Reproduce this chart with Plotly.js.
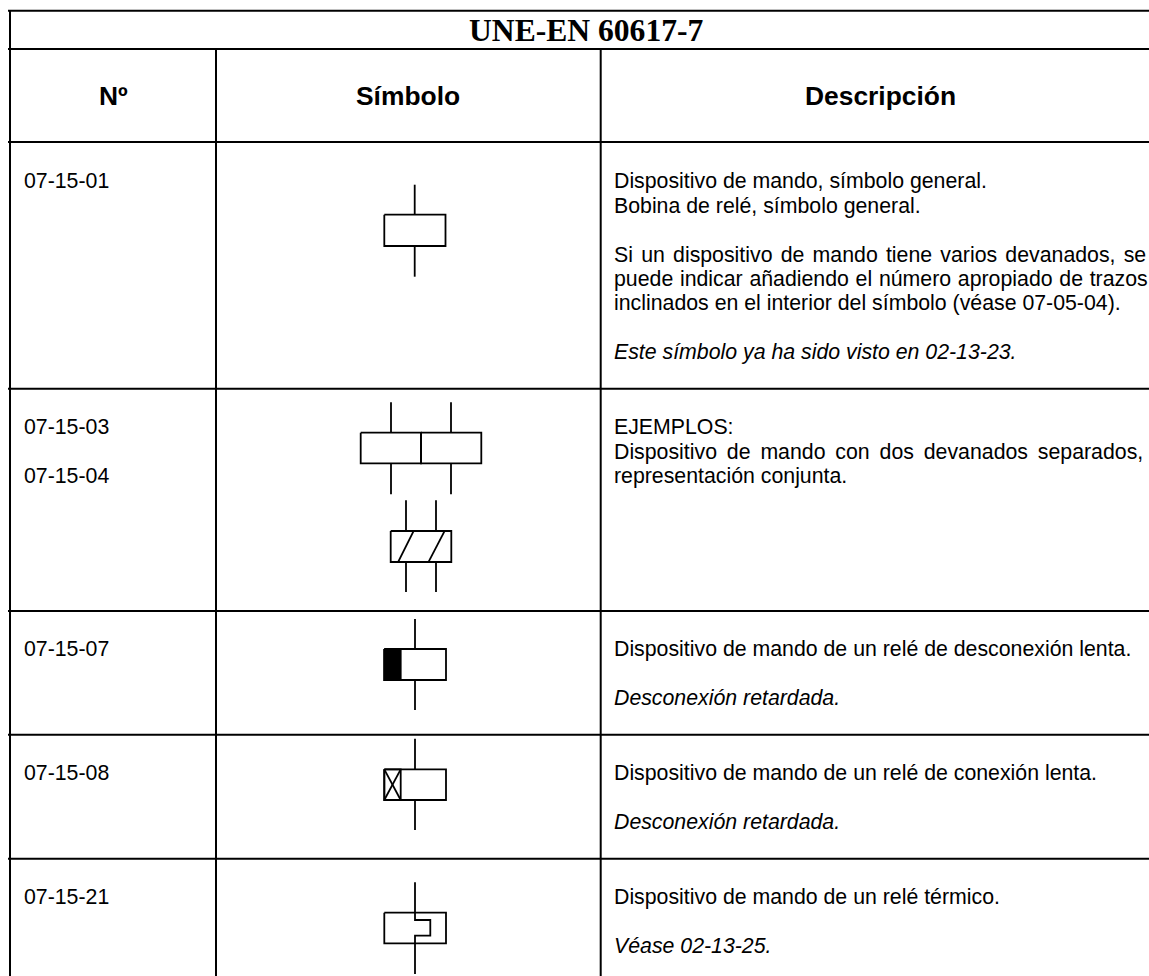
<!DOCTYPE html>
<html><head><meta charset="utf-8">
<script src="https://cdn.plot.ly/plotly-3.0.1.min.js"></script>
<style>html,body{margin:0;padding:0;background:#fff}#chart{width:1149px;height:976px}</style>
</head><body><div id="chart"></div>
<script>
const tableTitle = "UNE-EN 60617-7";
const headers = ["Nº", "Símbolo", "Descripción"];
const codes = ["07-15-01", "07-15-03", "07-15-04", "07-15-07", "07-15-08", "07-15-21"];
const descLines = [
  "Dispositivo de mando, símbolo general.",
  "Bobina de relé, símbolo general.",
  "Si un dispositivo de mando tiene varios devanados, se",
  "puede indicar añadiendo el número apropiado de trazos",
  "inclinados en el interior del símbolo (véase 07-05-04).",
  "<i>Este símbolo ya ha sido visto en 02-13-23.</i>",
  "EJEMPLOS:",
  "Dispositivo de mando con dos devanados separados,",
  "representación conjunta.",
  "Dispositivo de mando de un relé de desconexión lenta.",
  "<i>Desconexión retardada.</i>",
  "Dispositivo de mando de un relé de conexión lenta.",
  "<i>Desconexión retardada.</i>",
  "Dispositivo de mando de un relé térmico.",
  "<i>Véase 02-13-25.</i>"
];

// Layout of the page (pixel-like axis units)
const hRules = [10.7, 49, 142, 388.7, 611, 734.7, 858.7];
const vRules = [[10,10,976],[216,49,976],[600.7,49,976]];
const descY = [180.7,205.7,255,279.3,303.3,351.7,426.7,451.7,476,649.3,697.7,773.3,822,896.7,946];
const codeY = [180.7,426.8,476,648.7,772.9,896.7];
const justifiedRight = {2:1147, 3:1148.5, 7:1144};

const traces = [];
function line(xs, ys, w, fill) {
  const t = {x:xs, y:ys, mode:'lines', line:{color:'#000', width:w===undefined?1.8:w, simplify:false}, hoverinfo:'skip', showlegend:false};
  if (fill) { t.fill='toself'; t.fillcolor='#000'; }
  traces.push(t);
}
function box(x0,x1,y0,y1,w){ line([x0,x1,x1,x0,x0],[y0,y0,y1,y1,y0],w); }
// table rules
hRules.forEach(y => line([8,1149],[y,y],2));
vRules.forEach(v => line([v[0],v[0]],[v[1],v[2]],2));

// 07-15-01
box(384.3,445.5,214.7,246); line([414.7,414.7],[184.7,214.7]); line([414.7,414.7],[246,276.7]);
// 07-15-03
box(360.7,421,432.7,463.3); box(421,481.3,432.7,463.3);
[391,451].forEach(x=>{line([x,x],[402.3,432.7]); line([x,x],[463.3,494.3]);});
// 07-15-04
box(390.7,451.3,531,562);
[406,436].forEach(x=>{line([x,x],[500.3,531]); line([x,x],[562,592]);});
line([413.3,398.3],[531.7,561.7]); line([444.3,428.7],[531.7,561.7]);
// 07-15-07
line([384.3,400.7,400.7,384.3,384.3],[649,649,680,680,649],1.8,true);
box(384.3,446,649,680); line([415,415],[619,649]); line([415,415],[680,710]);
// 07-15-08
box(384.3,446,769.3,800); box(384.3,400.7,769.3,800);
line([384.3,400.7],[769.3,800]); line([400.7,384.3],[769.3,800]);
line([415,415],[738.7,769.3]); line([415,415],[800,830]);
// 07-15-21
box(384.3,446,912.7,943.3);
line([415,415,430.3,430.3,415,415],[882.3,920,920,935.7,935.7,974]);

const BODY = 'Liberation Sans, Arial, sans-serif';
function note(text,x,y,size,anchor,family){
  return {text, x, y, xref:'x', yref:'y', xanchor:anchor, yanchor:'middle', showarrow:false,
    align:anchor, borderpad:0, font:{family:family||BODY,size,color:'#000'}};
}
const bodySize = 21.3;
const textLeft = 613.3;
const ann = [];
ann.push(note('<b>'+tableTitle+'</b>',586,30.5,31.6,'center','Liberation Serif, Times New Roman, serif'));
[113,408,880.6].forEach((x,i)=>ann.push(note('<b>'+headers[i]+'</b>',x,96,26.4,'center')));
codes.forEach((c,i)=>ann.push(note(c,22.9,codeY[i],bodySize,'left')));
descLines.forEach((t,i)=>ann.push(note(t,textLeft,descY[i],bodySize,'left')));

Plotly.newPlot('chart',traces,{
  width:1149,height:976,margin:{l:0,r:0,t:0,b:0},paper_bgcolor:'#fff',plot_bgcolor:'#fff',showlegend:false,
  xaxis:{range:[0,1149],visible:false,fixedrange:true},
  yaxis:{range:[976,0],visible:false,fixedrange:true},
  annotations:ann
},{displayModeBar:false,staticPlot:true}).then(()=>{
  // Justified lines of the description column: stretch the word gaps to the column edge.
  document.querySelectorAll('.annotation-text').forEach(el=>{
    Object.keys(justifiedRight).forEach(k=>{
      if (el.textContent === descLines[k]) {
        const gaps = descLines[k].split(' ').length-1;
        const width = el.getComputedTextLength();
        el.style.wordSpacing = ((justifiedRight[k]-textLeft-1.5-width)/gaps)+'px';
      }
    });
  });
});
</script></body></html>
